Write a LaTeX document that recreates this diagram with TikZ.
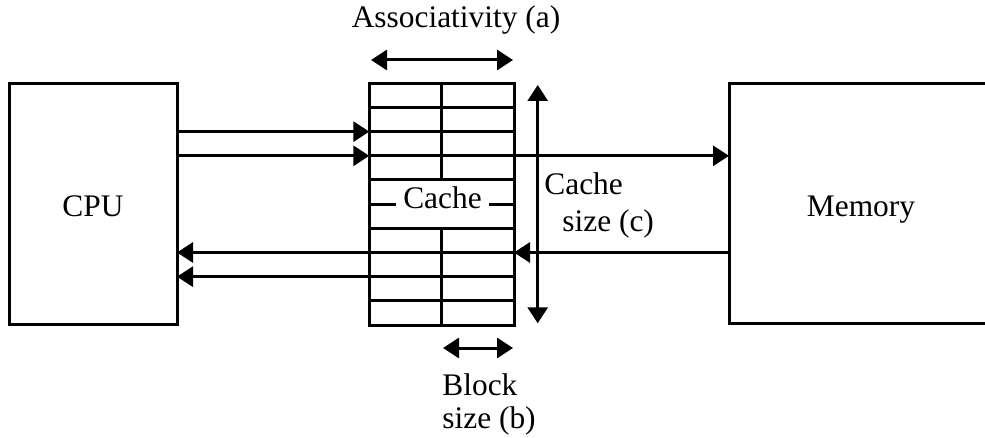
\documentclass[tikz,border=0pt]{standalone}
\usepackage{fontspec}
\setmainfont{Liberation Serif}
\usetikzlibrary{arrows.meta}
\begin{document}
\begin{tikzpicture}[x=0.5pt,y=-0.5pt,
  box/.style={draw, line width=1.5pt, inner sep=0pt, outer sep=0pt},
  gridline/.style={line width=1.5pt},
  arr/.style={line width=1.5pt, -{Triangle[length=8pt,width=10pt]}},
  dbl/.style={line width=1.5pt, {Triangle[length=8pt,width=10pt]}-{Triangle[length=8pt,width=10pt]}},
  lbl/.style={font=\fontsize{15.7pt}{18pt}\selectfont, inner sep=0pt}]
\clip (0,0) rectangle (985,438);
\useasboundingbox (0,0) rectangle (985,438);
% boxes
\node[box, minimum width=83.85pt, minimum height=120pt] (cpu) at (93.15,204) {};
\node[box, minimum width=132pt, minimum height=119.75pt] (mem) at (861,203.75) {};
\node[box, minimum width=72.35pt, minimum height=120.85pt] (cache) at (441.65,204.15) {};
% texts
\node[lbl, anchor=base] (cputxt) at (93,217) {CPU};
\node[lbl, anchor=base] (memtxt) at (861,217) {Memory};
\node[lbl, anchor=base, inner xsep=3.5pt] (cachetxt) at (442.5,208.3) {Cache};
\node[lbl, anchor=base] (assoc) at (456,28) {Associativity (a)};
\node[lbl, anchor=base west] (cs1) at (544,195) {Cache};
\node[lbl, anchor=base west] (cs2) at (562,232) {size (c)};
\node[lbl, anchor=base west] (bs1) at (442,395) {Block};
\node[lbl, anchor=base west] (bs2) at (442,428) {size (b)};
% cache rows
\foreach \k in {1,...,9}{\coordinate (r\k) at (441.65,{83.3+\k*24.17});}
\foreach \k in {1,2,3,4,6,7,8,9}{\draw[gridline] (cache.west |- r\k) -- (cache.east |- r\k);}
\draw[gridline] (cache.west |- r5) -- (cachetxt.west |- r5);
\draw[gridline] (cachetxt.east |- r5) -- (cache.east |- r5);
\draw[gridline] (cache.north) -- (r4);
\draw[gridline] (r6) -- (cache.south);
% data arrows
\draw[arr] (cpu.east |- r2) -- (cache.west |- r2);
\draw[arr] (cpu.east |- r3) -- (cache.west |- r3);
\draw[arr] (cache.east |- r3) -- (mem.west |- r3);
\draw[arr] (mem.west |- r7) -- (cache.east |- r7);
\draw[arr] (cache.west |- r7) -- (cpu.east |- r7);
\draw[arr] (cache.west |- r8) -- (cpu.east |- r8);
% dimension arrows
\coordinate (a1) at (371,60);
\coordinate (a2) at (513,60);
\coordinate (c1) at (537.7,85);
\coordinate (c2) at (537.7,323.3);
\coordinate (b1) at (443,348);
\coordinate (b2) at (513,348);
\draw[dbl] (a1) -- (a2);
\draw[dbl] (c1) -- (c2);
\draw[dbl] (b1) -- (b2);
\end{tikzpicture}
\end{document}
